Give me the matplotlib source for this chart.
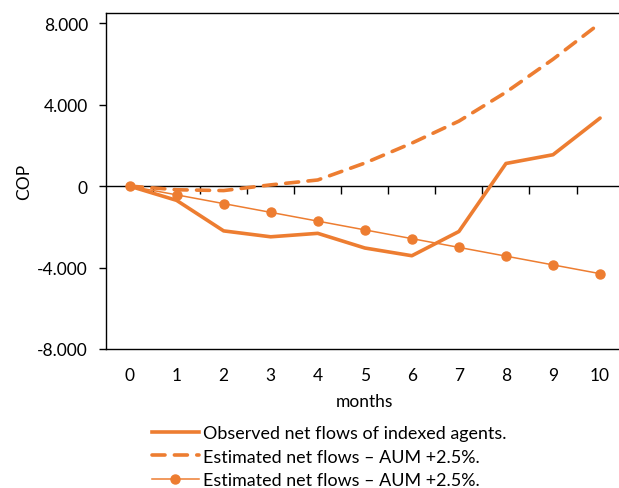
import matplotlib
matplotlib.use("Agg")
import matplotlib.pyplot as plt
from matplotlib.lines import Line2D

# Monthly net flows (COP)
months = [0, 1, 2, 3, 4, 5, 6, 7, 8, 9, 10]
observed = [0, -700, -2200, -2490, -2320, -3040, -3420, -2230, 1110, 1540, 3340]
estimated_dashed = [0, -180, -220, 60, 300, 1130, 2110, 3190, 4610, 6230, 8000]
estimated_marker = [0, -430, -860, -1290, -1720, -2150, -2580, -3010, -3440, -3870, -4300]

y_ticks = [-8000, -4000, 0, 4000, 8000]
y_tick_labels = ["-8.000", "-4.000", "0", "4.000", "8.000"]

label_observed = "Observed net flows of indexed agents."
label_dashed = "Estimated net flows \u2013 AUM +2.5%."
label_marker = "Estimated net flows \u2013 AUM +2.5%."

orange = "#ED7D31"
plt.rcParams["font.family"] = ["Lato", "DejaVu Sans"]
fs = 12.5

fig = plt.figure(figsize=(6.19, 4.89), dpi=100)
ax = fig.add_axes([106 / 619, (489 - 350) / 489, 517.6 / 619, 336 / 489])

ax.plot(months, observed, color=orange, lw=2.6, solid_capstyle="round",
        solid_joinstyle="round", zorder=3)
ax.plot(months, estimated_dashed, color=orange, lw=2.6, dashes=(3.6, 2.6),
        dash_capstyle="round", zorder=3)
ax.plot(months, estimated_marker, color=orange, lw=1.1, marker="o", ms=6.5,
        zorder=4)

ax.set_xlim(-0.5, 10.5)
ax.set_ylim(-8000, 8500)

# Category axis drawn at y=0 with ticks between categories
ax.spines["bottom"].set_position(("data", 0))
ax.spines["bottom"].set_linewidth(1.0)
ax.spines["right"].set_visible(False)
ax.spines["top"].set_linewidth(1.0)
ax.spines["left"].set_linewidth(1.0)
ax.set_xticks(months)
ax.tick_params(axis="x", which="major", length=0, labelbottom=False)
ax.set_xticks([m + 0.5 for m in months[:-1]], minor=True)
ax.tick_params(axis="x", which="minor", length=6, width=1.0, direction="out")

ax.set_yticks(y_ticks)
ax.set_yticklabels(y_tick_labels, fontsize=fs)
ax.tick_params(axis="y", length=5, width=1.0, pad=8)

# Month labels along the bottom edge of the plot area
sec = ax.secondary_xaxis("bottom")
sec.set_xticks(months)
sec.set_xticklabels([str(m) for m in months], fontsize=fs)
sec.tick_params(length=0, pad=13)
sec.spines["bottom"].set_linewidth(1.0)
sec.set_xlabel("months", fontsize=fs, labelpad=7.5)

ax.set_ylabel("COP", fontsize=fs, labelpad=4)

handles = [
    Line2D([], [], color=orange, lw=2.6),
    Line2D([], [], color=orange, lw=2.6, dashes=(3.6, 2.6), dash_capstyle="round"),
    Line2D([], [], color=orange, lw=1.1, marker="o", ms=6.5),
]
fig.legend(handles, [label_observed, label_dashed, label_marker],
           loc="upper left", bbox_to_anchor=(145 / 619, 1 - 419 / 489),
           frameon=False, fontsize=12.9, handlelength=2.6, handletextpad=0.25,
           labelspacing=0.42, borderaxespad=0)

fig.savefig("out.png", dpi=100)
